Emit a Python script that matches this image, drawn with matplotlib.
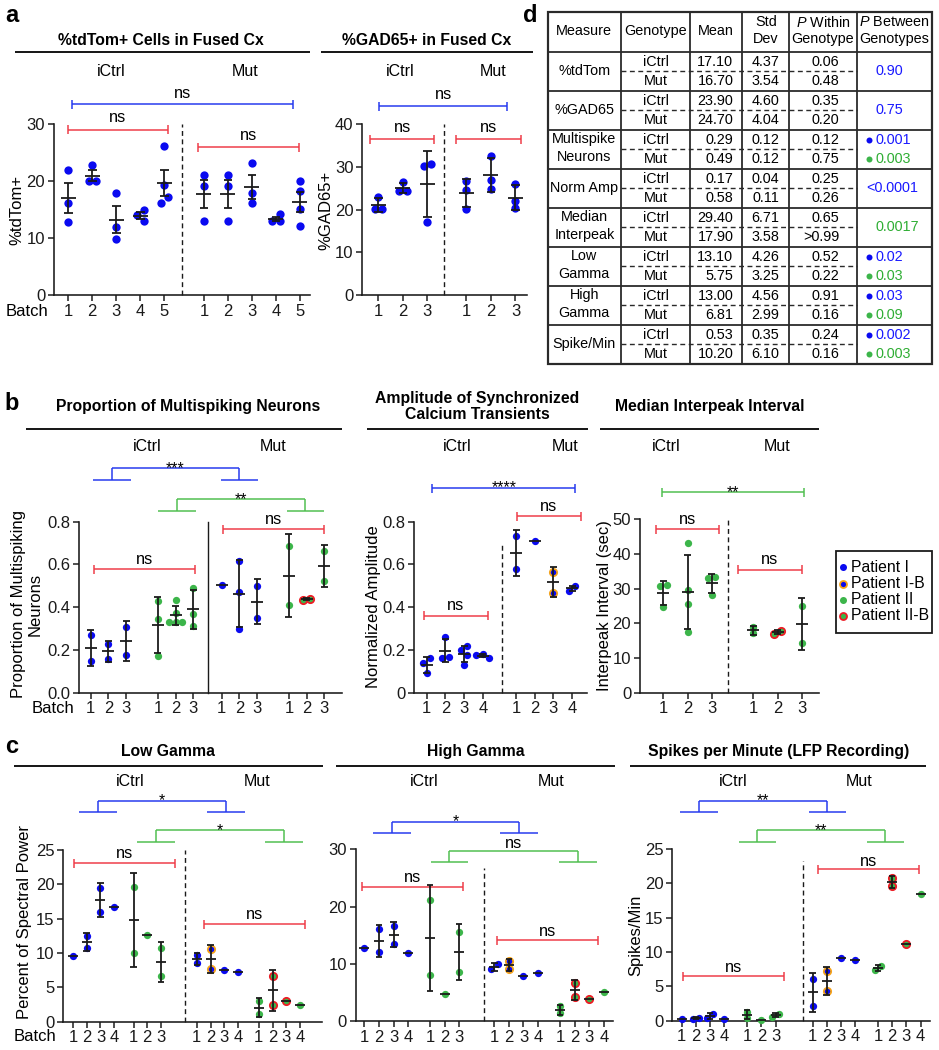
import numpy as np
import matplotlib
matplotlib.use('Agg')
import matplotlib.pyplot as plt
from matplotlib.patches import Rectangle

plt.rcParams['font.family'] = ['Liberation Sans', 'DejaVu Sans']
plt.rcParams['mathtext.fontset'] = 'custom'
plt.rcParams['mathtext.rm'] = 'Liberation Sans'
plt.rcParams['mathtext.it'] = 'Liberation Sans:italic'
plt.rcParams['mathtext.bf'] = 'Liberation Sans:bold'

# ------------------------------------------------------------------ data
# panel a : %tdTom+ (batches 1-5 iCtrl, 1-5 Mut), mean +/- SEM
tdtom_batches = ['1', '2', '3', '4', '5', '1', '2', '3', '4', '5']
tdtom_points = [[22.0, 16.1, 12.9], [22.9, 20.0, 20.0], [18.0, 11.9, 9.9],
                [14.9, 14.0, 13.0], [26.2, 19.3, 17.2, 16.1],
                [21.1, 19.2, 13.0], [21.1, 19.2, 13.0], [23.1, 17.9, 16.1],
                [14.2, 13.0, 13.0], [20.1, 18.2, 15.1, 12.1]]
tdtom_patient = ['I'] * 10

# panel a : %GAD65+ , mean +/- SD
gad_batches = ['1', '2', '3', '1', '2', '3']
gad_points = [[23.0, 20.2, 20.2], [26.5, 24.4, 24.4], [30.7, 30.2, 17.0],
              [26.8, 24.6, 20.2], [32.6, 27.0, 24.8], [26.0, 22.0, 20.3]]
gad_patient = ['I'] * 6

# panel b : proportion of multispiking neurons
ms_batches = ['1', '2', '3'] * 4
ms_points = [[0.27, 0.148], [0.228, 0.158], [0.309, 0.177],
             [0.43, 0.344, 0.173], [0.434, 0.375, 0.333, 0.333, 0.333],
             [0.492, 0.367, 0.312],
             [0.503], [0.614, 0.473, 0.30], [0.501, 0.351],
             [0.684, 0.412], [0.44, 0.433], [0.664, 0.523]]
ms_patient = ['I', 'I', 'I', 'II', 'II', 'II', 'I', 'I', 'I', 'II', 'IIB', 'II']

# panel b : normalized amplitude
amp_batches = ['1', '2', '3', '4'] * 2
amp_points = [[0.161, 0.14, 0.09], [0.259, 0.169, 0.161],
              [0.219, 0.20, 0.177, 0.13], [0.18, 0.177, 0.164],
              [0.731, 0.578], [0.709], [0.567, 0.468], [0.497, 0.478]]
amp_patient = ['I', 'I', 'I', 'I', 'I', 'I', 'IB', 'I']

# panel b : median interpeak interval (sec)
ipi_batches = ['1', '2', '3'] * 2
ipi_points = [[31.0, 30.7, 24.8], [43.3, 29.6, 25.6, 17.6], [33.3, 33.0, 28.2],
              [18.9, 17.1], [17.9, 17.0], [25.0, 14.4]]
ipi_patient = ['II', 'II', 'II', 'II', 'IIB', 'II']

# panel c : batches shared by the three LFP plots
lfp_batches = ['1', '2', '3', '4', '1', '2', '3', '1', '2', '3', '4', '1', '2', '3', '4']
lfp_patient = ['I', 'I', 'I', 'I', 'II', 'II', 'II',
               'I', 'IB', 'I', 'I', 'II', 'IIB', 'IIB', 'II']
lowg_points = [[9.56], [12.5, 10.7], [19.5, 16.0], [16.65],
               [19.65, 9.96], [12.6], [10.8, 6.65],
               [9.7, 8.5], [10.6, 7.7], [7.5], [7.3],
               [3.0, 1.07], [6.7, 2.43], [3.0], [2.43]]
highg_points = [[12.7], [16.0, 12.0], [16.6, 13.5], [11.8],
                [21.1, 8.0], [4.7], [15.5, 8.6],
                [9.9, 9.0], [10.5, 9.1], [7.85], [8.3],
                [2.6, 1.34], [6.6, 4.15], [3.85], [5.1]]
spk_points = [[0.25], [0.45, 0.3], [0.93, 0.35], [0.25],
              [1.3, 0.4], [0.15], [1.0, 0.6],
              [6.08, 2.14], [7.2, 4.28], [9.1], [8.85],
              [8.0, 7.4], [20.85, 19.6], [11.1], [18.45]]

# panel d : summary table
tbl_measure = ['%tdTom', '%GAD65', 'Multispike\nNeurons', 'Norm Amp',
               'Median\nInterpeak', 'Low\nGamma', 'High\nGamma', 'Spike/Min']
tbl_mean_ictrl = ['17.10', '23.90', '0.29', '0.17', '29.40', '13.10', '13.00', '0.53']
tbl_mean_mut = ['16.70', '24.70', '0.49', '0.58', '17.90', '5.75', '6.81', '10.20']
tbl_sd_ictrl = ['4.37', '4.60', '0.12', '0.04', '6.71', '4.26', '4.56', '0.35']
tbl_sd_mut = ['3.54', '4.04', '0.12', '0.11', '3.58', '3.25', '2.99', '6.10']
tbl_pw_ictrl = ['0.06', '0.35', '0.12', '0.25', '0.65', '0.52', '0.91', '0.24']
tbl_pw_mut = ['0.48', '0.20', '0.75', '0.26', '>0.99', '0.22', '0.16', '0.16']
tbl_pb_patient1 = ['0.90', '0.75', '0.001', '<0.0001', '', '0.02', '0.03', '0.002']
tbl_pb_patient2 = ['', '', '0.003', '', '0.0017', '0.03', '0.09', '0.003']

legend_labels = ['Patient I', 'Patient I-B', 'Patient II', 'Patient II-B']
legend_keys = ['I', 'IB', 'II', 'IIB']

# ------------------------------------------------------------------ style
W, H = 939, 1050
PT = 0.72  # points per pixel at dpi 100
K = '#1a1a1a'
BLUE = '#0a0af0'
GREEN = '#3cb54a'
ORANGE = '#f5a31a'
RED = '#ec1c24'
BR_BLUE = '#2438ee'
BR_GREEN = '#4fbf4f'
BR_RED = '#ef3a46'
TXT_BLUE = '#1a1aff'
TXT_GREEN = '#2fae34'
STYLE = {'I': (BLUE, None), 'IB': (BLUE, ORANGE), 'II': (GREEN, None), 'IIB': (GREEN, RED)}

fig = plt.figure(figsize=(W / 100, H / 100), dpi=100)
ov = fig.add_axes([0, 0, 1, 1])
ov.set_xlim(0, W)
ov.set_ylim(H, 0)
ov.axis('off')


def T(x, y, s, size=11.3, weight='normal', ha='center', va='center', color='black', rot=0, **kw):
    ov.text(x, y, s, fontsize=size, fontweight=weight, ha=ha, va=va, color=color,
            rotation=rot, **kw)


def L(xs, ys, color=K, lw=1.5, **kw):
    ov.plot(xs, ys, color=color, lw=lw * PT, solid_capstyle='butt', **kw)


def bracket_label(x, y_line, s, off):
    if s.startswith('*'):
        T(x, y_line + 4.5, s, size=11.3, va='baseline')
    else:
        T(x, y_line - off, s, size=11.8)


def simple_bracket(x1, x2, y, color, label, off=10, tick=4.5):
    L([x1, x2], [y, y], color)
    L([x1, x1], [y - tick, y + tick], color)
    L([x2, x2], [y - tick, y + tick], color)
    bracket_label((x1 + x2) / 2, y, label, off)


def nested_bracket(xa, xb, ytop, yfeet, color, label, hw=18.8, off=8):
    L([xa, xb], [ytop, ytop], color)
    L([xa, xa], [ytop, yfeet], color)
    L([xb, xb], [ytop, yfeet], color)
    L([xa - hw, xa + hw], [yfeet, yfeet], color)
    L([xb - hw, xb + hw], [yfeet, yfeet], color)
    bracket_label((xa + xb) / 2, ytop, label, off)


def header(title, x, y, lx0, lx1, ly, ictrl_x, mut_x, gy):
    T(x, y, title, size=11.3, weight='bold', linespacing=1.05)
    L([lx0, lx1], [ly, ly], K, lw=2.0)
    T(ictrl_x, gy, 'iCtrl', size=11.5)
    T(mut_x, gy, 'Mut', size=11.5)


def make_ax(l, r, t, b, xlim, ylim, yticks, yfmt, xticks, xlabels):
    ax = fig.add_axes([l / W, 1 - b / H, (r - l) / W, (b - t) / H])
    ax.set_xlim(*xlim)
    ax.set_ylim(*ylim)
    ax.patch.set_visible(False)
    for s in ['top', 'right']:
        ax.spines[s].set_visible(False)
    for s in ['left', 'bottom']:
        ax.spines[s].set_linewidth(1.6 * PT)
        ax.spines[s].set_color(K)
    ax.set_yticks(yticks)
    ax.set_yticklabels([yfmt.format(v) for v in yticks])
    ax.set_xticks(xticks)
    ax.set_xticklabels(xlabels)
    ax.tick_params(length=6 * PT, width=1.5 * PT, labelsize=12, pad=2, colors=K)
    return ax, (r - l) / (xlim[1] - xlim[0]), (b - t) / (ylim[1] - ylim[0])


def swarm(ypx, d):
    n = len(ypx)
    offs = np.zeros(n)
    placed = []
    for i in np.argsort(-ypx, kind='stable'):
        o = 0.0
        for k in (0, -1, 1, -2, 2, -3, 3):
            o = k * d
            if all((o - po) ** 2 + (ypx[i] - py) ** 2 >= (0.85 * d) ** 2 for po, py in placed):
                break
        offs[i] = o
        placed.append((o, ypx[i]))
    order = np.argsort(ypx, kind='stable')
    clusters = [[order[0]]]
    for a, b in zip(order[:-1], order[1:]):
        if ypx[b] - ypx[a] < d:
            clusters[-1].append(b)
        else:
            clusters.append([b])
    for c in clusters:
        if len(c) > 1:
            offs[c] -= (offs[c].min() + offs[c].max()) / 2
    return offs


def draw_groups(axinfo, xs, pts_list, patients, sem=False, d=7.3, mw=12, cw=7, elw=1.8):
    ax, ppx, ppy = axinfo
    for x, pts, pat in zip(xs, pts_list, patients):
        v = np.asarray(pts, float)
        offs = swarm(v * ppy, d * 0.9)
        fc, ec = STYLE[pat]
        ax.scatter(x + offs / ppx, v, s=(d * PT) ** 2, facecolor=fc,
                   edgecolor=ec if ec else fc, linewidths=(1.8 * PT if ec else 0),
                   clip_on=False, zorder=3)
        m = v.mean()
        e = v.std(ddof=1) if len(v) > 1 else 0.0
        if sem and len(v) > 1:
            e /= np.sqrt(len(v))
        kw = dict(color=K, lw=elw * PT, clip_on=False, zorder=4, solid_capstyle='butt')
        ax.plot([x - mw / 2 / ppx, x + mw / 2 / ppx], [m, m], **kw)
        if e > 0:
            ax.plot([x, x], [m - e, m + e], **kw)
            for yy in (m - e, m + e):
                ax.plot([x - cw / 2 / ppx, x + cw / 2 / ppx], [yy, yy], **kw)


def vsep(ax, x, y0, y1, dashed=True):
    ax.plot([x, x], [y0, y1], color=K, lw=1.4 * PT, clip_on=False,
            ls=(0, (3.5, 2.5)) if dashed else '-')


# ------------------------------------------------------------------ panel a
T(11.7, 15, 'a', size=17, weight='bold')
header('%tdTom+ Cells in Fused Cx', 160.8, 40.7, 15, 310, 51.5, 111, 245, 71)
a1_x = np.r_[np.arange(1, 6), np.arange(1, 6) + 5.65]
a1 = make_ax(54, 310, 124, 295.3, (0.404, 11.07), (0, 30), [0, 10, 20, 30], '{:d}',
             a1_x, tdtom_batches)
vsep(a1[0], 5.75, 0, 30)
draw_groups(a1, a1_x, tdtom_points, tdtom_patient, sem=True, d=8.3, mw=15, cw=8.5)
T(26.7, 311.5, 'Batch', size=12)
T(16.7, 210, '%tdTom+', size=12, rot=90)
simple_bracket(72, 292.5, 104.3, BR_BLUE, 'ns', off=11.3)
simple_bracket(67.5, 168, 129.5, BR_RED, 'ns', off=11.8)
simple_bracket(198, 299, 147, BR_RED, 'ns', off=11.8)

header('%GAD65+ in Fused Cx', 426.7, 40.7, 321, 533, 51.5, 400, 493, 71)
a2_x = np.r_[1, 2, 3, 4.6, 5.6, 6.6]
a2 = make_ax(362.3, 527, 124, 295.3, (0.347, 7.07), (0, 40), [0, 10, 20, 30, 40], '{:d}',
             a2_x, gad_batches)
vsep(a2[0], 3.7, 0, 40)
draw_groups(a2, a2_x, gad_points, gad_patient, d=8.3, mw=15, cw=8.5)
T(326, 210, '%GAD65+', size=12, rot=90)
simple_bracket(379.3, 507.3, 106, BR_BLUE, 'ns', off=11.3)
simple_bracket(370, 434.3, 139.3, BR_RED, 'ns', off=11.5)
simple_bracket(456, 520.7, 139.3, BR_RED, 'ns', off=11.5)

# ------------------------------------------------------------------ panel d (table)
T(530.7, 15, 'd', size=17, weight='bold')
cx = [547.7, 621, 690, 742.3, 789.3, 856.7, 931.7]
ry = [12, 51.7] + [51.7 + 39.0 * (i + 1) for i in range(8)]
TF = 10.4
for x in cx[1:-1]:
    L([x, x], [ry[0], ry[-1]], '#2a2a2a', lw=1.8)
for y in ry[1:-1]:
    L([cx[0], cx[-1]], [y, y], '#2a2a2a', lw=1.8)
ov.add_patch(Rectangle((cx[0], ry[0]), cx[-1] - cx[0], ry[-1] - ry[0], fill=False,
                       ec='#2a2a2a', lw=2.2 * PT))
T(584.3, 30.7, 'Measure', size=TF)
T(655.5, 30.7, 'Genotype', size=TF)
T(716, 30.7, 'Mean', size=TF)
T(765.8, 22.3, 'Std', size=TF)
T(765.8, 39.3, 'Dev', size=TF)
T(823, 22.3, '$P$ Within', size=TF)
T(823, 39.3, 'Genotype', size=TF)
T(894.2, 22.3, '$P$ Between', size=TF)
T(894.2, 39.3, 'Genotypes', size=TF)
for i in range(8):
    top = ry[i + 1]
    mid = top + 19.5
    yi, ym = top + 10.3, top + 29.3
    L([cx[1], cx[5]], [mid, mid], '#2a2a2a', lw=1.4, ls=(0, (3.5, 2.5)))
    lines = tbl_measure[i].split('\n')
    if len(lines) == 1:
        T(584.3, mid, lines[0], size=TF)
    else:
        T(584.3, top + 9.5, lines[0], size=TF)
        T(584.3, top + 27, lines[1], size=TF)
    T(655.5, yi, 'iCtrl', size=TF)
    T(655.5, ym, 'Mut', size=TF)
    T(733.3, yi, tbl_mean_ictrl[i], size=TF, ha='right')
    T(733.3, ym, tbl_mean_mut[i], size=TF, ha='right')
    T(779.3, yi, tbl_sd_ictrl[i], size=TF, ha='right')
    T(779.3, ym, tbl_sd_mut[i], size=TF, ha='right')
    T(839.3, yi, tbl_pw_ictrl[i], size=TF, ha='right')
    T(839.3, ym, tbl_pw_mut[i], size=TF, ha='right')
    p1, p2 = tbl_pb_patient1[i], tbl_pb_patient2[i]
    if p1 and p2:
        for yy, s, c, mc in ((yi, p1, TXT_BLUE, BLUE), (ym, p2, TXT_GREEN, GREEN)):
            ov.plot(869, yy, 'o', ms=6 * PT, color=mc, mew=0)
            T(875.5, yy, s, size=TF, ha='left', color=c)
    else:
        s, c = (p1, TXT_BLUE) if p1 else (p2, TXT_GREEN)
        xs = 866.7 if s.startswith('<') else 875.5
        T(xs, mid, s, size=TF, ha='left', color=c)

# ------------------------------------------------------------------ panel b
T(12, 403, 'b', size=17, weight='bold')
header('Proportion of Multispiking Neurons', 188, 406.7, 26, 342, 429, 146.7, 273, 446.7)
b1_x = np.r_[1, 2, 3, 4.8, 5.8, 6.8, 8.4, 9.4, 10.4, 12.2, 13.2, 14.2]
b1 = make_ax(79, 342, 521.7, 692.7, (0.34, 15.2), (0, 0.8), [0, 0.2, 0.4, 0.6, 0.8], '{:.1f}',
             b1_x, ms_batches)
vsep(b1[0], 7.61, 0, 0.8, dashed=False)
draw_groups(b1, b1_x, ms_points, ms_patient)
T(53.3, 708.3, 'Batch', size=12)
T(27, 604, 'Proportion of Multispiking\nNeurons', size=12, rot=90, linespacing=1.15)
nested_bracket(111.7, 239.3, 468.3, 480, BR_BLUE, '***')
nested_bracket(177, 305.3, 499.3, 511, BR_GREEN, '**')
simple_bracket(94.3, 195, 569.3, BR_RED, 'ns', off=9.5)
simple_bracket(223.3, 324.3, 529, BR_RED, 'ns', off=9.7)

header('Amplitude of Synchronized\nCalcium Transients', 477.3, 406.3, 367.3, 588.3, 429,
       456.7, 565, 446.7)
b2_x = np.r_[1, 2, 3, 4, 5.78, 6.78, 7.78, 8.78]
b2 = make_ax(414, 586.7, 521.7, 692.7, (0.32, 9.56), (0, 0.8), [0, 0.2, 0.4, 0.6, 0.8], '{:g}',
             b2_x, amp_batches)
vsep(b2[0], 5.04, 0, 0.706)
draw_groups(b2, b2_x, amp_points, amp_patient)
T(373.3, 607, 'Normalized Amplitude', size=12, rot=90)
simple_bracket(432.3, 575.3, 488, BR_BLUE, '****')
simple_bracket(516.7, 580.7, 516, BR_RED, 'ns', off=9.3)
simple_bracket(424, 487.7, 615.7, BR_RED, 'ns', off=9.7)

header('Median Interpeak Interval', 710, 406.7, 600, 818.7, 429, 666, 776.7, 446.7)
b3_x = np.r_[1, 2, 3, 4.72, 5.72, 6.72]
b3 = make_ax(640, 819, 519.3, 692.7, (0.037, 7.43), (0, 50), [0, 10, 20, 30, 40, 50], '{:d}',
             b3_x, ipi_batches)
vsep(b3[0], 3.67, 0, 50)
draw_groups(b3, b3_x, ipi_points, ipi_patient)
T(605, 606, 'Interpeak Interval (sec)', size=12, rot=90)
simple_bracket(661.7, 804, 492.3, BR_GREEN, '**')
simple_bracket(655.7, 719.3, 529, BR_RED, 'ns', off=9.7)
simple_bracket(737.7, 801.7, 569.7, BR_RED, 'ns', off=9.7)

# legend
ov.add_patch(Rectangle((835.7, 550.7), 96, 82.6, fill=False, ec=K, lw=1.8 * PT))
for j, (lab, key) in enumerate(zip(legend_labels, legend_keys)):
    yy = 567.3 + 16.2 * j
    fc, ec = STYLE[key]
    ov.scatter([843.3], [yy], s=(7 * PT) ** 2, facecolor=fc, edgecolor=ec if ec else fc,
               linewidths=(1.8 * PT if ec else 0), zorder=3)
    T(850.7, yy, lab, size=11.3, ha='left')

# ------------------------------------------------------------------ panel c
T(12, 746.7, 'c', size=17, weight='bold')
header('Low Gamma', 168.3, 751.7, 14, 323.3, 766, 130, 257.3, 781.7)
c1_x = np.r_[1, 2, 3, 4, 5.4, 6.4, 7.4, 10, 11, 12, 13, 14.5, 15.5, 16.5, 17.5]
c1 = make_ax(63.3, 321.7, 850, 1021.7, (0.3, 19.07), (0, 25), [0, 5, 10, 15, 20, 25], '{:d}',
             c1_x, lfp_batches)
vsep(c1[0], 9.16, 0, 25)
draw_groups(c1, c1_x, lowg_points, lfp_patient, mw=10, cw=6.5)
T(35, 1036.7, 'Batch', size=12)
T(25, 922, 'Percent of Spectral Power', size=12, rot=90)
nested_bracket(97.7, 226, 800.7, 811.7, BR_BLUE, '*')
nested_bracket(156, 284, 830.3, 841.7, BR_GREEN, '*')
simple_bracket(74, 175, 863.3, BR_RED, 'ns', off=10)
simple_bracket(204, 305, 924, BR_RED, 'ns', off=9.7)

header('High Gamma', 475.7, 751.7, 336, 615, 766, 424, 550.7, 781.7)
c2_x = np.r_[1, 2, 3, 4, 5.5, 6.5, 7.5, 9.9, 10.9, 11.9, 12.9, 14.4, 15.4, 16.4, 17.4]
c2 = make_ax(355.7, 613.3, 849.3, 1021, (0.41, 18.05), (0, 30), [0, 10, 20, 30], '{:d}',
             c2_x, lfp_batches)
vsep(c2[0], 9.2, 0, 26.7)
draw_groups(c2, c2_x, highg_points, lfp_patient, mw=10, cw=6.5)
nested_bracket(391.7, 519.3, 821.7, 832.7, BR_BLUE, '*')
nested_bracket(449.3, 577.7, 851, 862.3, BR_GREEN, 'ns', off=8)
simple_bracket(362.3, 463.3, 886.7, BR_RED, 'ns', off=8.8)
simple_bracket(496.7, 597.7, 940, BR_RED, 'ns', off=8.8)

header('Spikes per Minute (LFP Recording)', 778.3, 751.7, 630, 926, 766, 732.7, 859.3, 781.7)
c3_x = np.r_[1, 2, 3, 4, 5.6, 6.6, 7.6, 10.2, 11.2, 12.2, 13.2, 14.8, 15.8, 16.8, 17.8]
c3 = make_ax(672.3, 930, 849, 1020.7, (0.34, 18.46), (0, 25), [0, 5, 10, 15, 20, 25], '{:d}',
             c3_x, lfp_batches)
vsep(c3[0], 9.52, 0, 23.2)
draw_groups(c3, c3_x, spk_points, lfp_patient, mw=10, cw=6.5)
T(636, 935, 'Spikes/Min', size=12, rot=90)
nested_bracket(699, 827.3, 800.7, 811.7, BR_BLUE, '**')
nested_bracket(757.3, 885.3, 830.3, 841.7, BR_GREEN, '**')
simple_bracket(683.3, 784, 976, BR_RED, 'ns', off=8)
simple_bracket(817.7, 918.7, 869, BR_RED, 'ns', off=8)

fig.savefig('out.png', dpi=100)
